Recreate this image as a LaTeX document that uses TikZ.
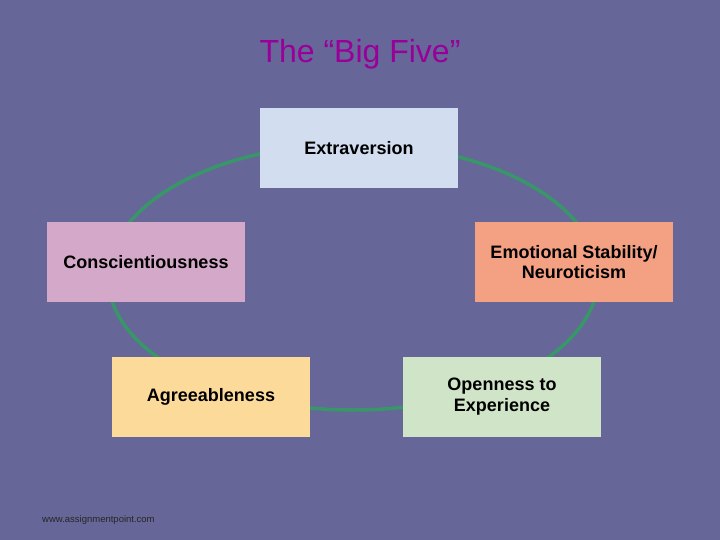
\documentclass[tikz,border=0pt]{standalone}
\usepackage{fontspec}
\setmainfont{Liberation Sans}
\definecolor{slide}{RGB}{102,102,153}
\definecolor{ring}{RGB}{56,150,104}
\definecolor{titlecol}{RGB}{153,0,153}
\definecolor{extrafill}{RGB}{210,221,240}
\definecolor{consfill}{RGB}{212,168,200}
\definecolor{emofill}{RGB}{244,160,131}
\definecolor{agreefill}{RGB}{252,218,154}
\definecolor{openfill}{RGB}{208,228,200}
\tikzset{
  trait/.style={minimum width=198pt,minimum height=80pt,inner sep=0pt,
    align=center,font=\fontsize{18}{20.5}\selectfont\bfseries}
}
\begin{document}
\begin{tikzpicture}[x=1pt,y=-1pt]
\fill[slide] (0,0) rectangle (720,540);
\useasboundingbox (0,0) rectangle (720,540);

\draw[ring,line width=3.5pt] (353,277) ellipse [x radius=245,y radius=133];

\node[text=titlecol,font=\fontsize{32}{38}\selectfont] (title) at (360,54) {The “Big Five”};

\node[trait,fill=extrafill] (extra) at (359,148.5) {Extraversion};
\node[trait,fill=consfill] (cons) at (146,262) {Conscientiousness};
\node[trait,fill=emofill] (emo) at (574,262) {Emotional Stability/\\Neuroticism};
\node[trait,fill=agreefill] (agree) at (211,397) {Agreeableness};
\node[trait,fill=openfill] (open) at (502,396.5) {Openness to\\Experience};

\node[font=\fontsize{9.5}{10}\selectfont,text=black!85,anchor=west,inner sep=0pt] (site) at (42,520) {www.assignmentpoint.com};
\end{tikzpicture}
\end{document}
